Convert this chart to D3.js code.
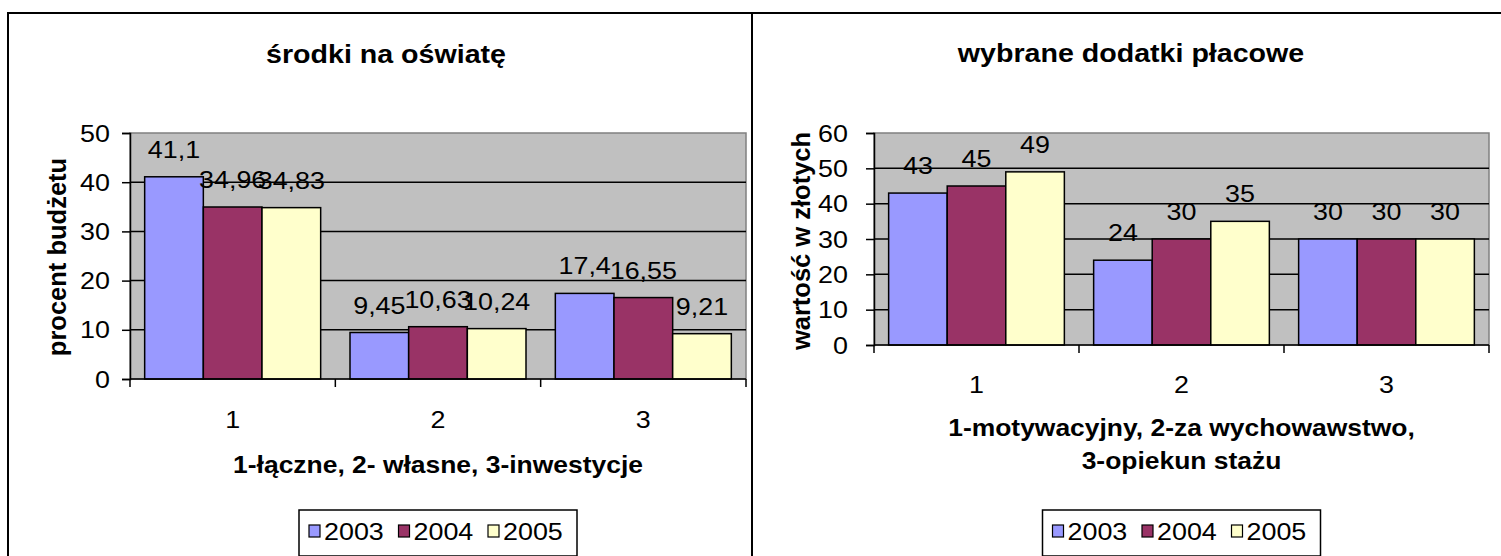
<!DOCTYPE html>
<html><head><meta charset="utf-8">
<script src="https://cdn.jsdelivr.net/npm/d3@7/dist/d3.min.js"></script>
<style>html,body{margin:0;padding:0;background:#fff;}svg{display:block;}</style>
</head><body>
<svg id="c" width="1501" height="556"></svg>
<script>
// ---- DATA ----
const years = ["2003", "2004", "2005"];
const colors = ["#9999FF", "#993366", "#FFFFCC"];
const categories = ["1", "2", "3"];

const leftTitle = "środki na oświatę";
const leftYTitle = "procent budżetu";
const leftXTitle = ["1-łączne, 2- własne, 3-inwestycje"];
const leftTicks = [0, 10, 20, 30, 40, 50];
const left2003 = [41.1, 9.45, 17.4];
const left2004 = [34.96, 10.63, 16.55];
const left2005 = [34.83, 10.24, 9.21];

const rightTitle = "wybrane dodatki płacowe";
const rightYTitle = "wartość w złotych";
const rightXTitle = ["1-motywacyjny, 2-za wychowawstwo,", "3-opiekun stażu"];
const rightTicks = [0, 10, 20, 30, 40, 50, 60];
const right2003 = [43, 24, 30];
const right2004 = [45, 30, 30];
const right2005 = [49, 35, 30];

// ---- DRAWING ----
const svg = d3.select("#c");
const FONT = "'Liberation Sans', Arial, Helvetica, sans-serif";

function txt(g, x, y, s, o) {
  return g.append("text")
    .attr("transform", `translate(${x},${y}) rotate(${o.rot || 0}) scale(${o.sx || 1},1)`)
    .attr("font-family", FONT)
    .attr("font-size", o.size + "px")
    .attr("font-weight", o.weight || "normal")
    .attr("text-anchor", o.anchor || "middle")
    .attr("fill", "#000")
    .text(s);
}

const fmt = v => String(v).replace(".", ",");

// outer frames
svg.append("rect").attr("x", 8).attr("y", 13).attr("width", 1520).attr("height", 600)
  .attr("fill", "none").attr("stroke", "#000").attr("stroke-width", 2);
svg.append("line").attr("x1", 752).attr("x2", 752).attr("y1", 13).attr("y2", 560)
  .attr("stroke", "#000").attr("stroke-width", 2);

const TICK = {size: 24, sx: 1.12};

function panel(cfg) {
  const g = svg.append("g");
  const series = [cfg.s1, cfg.s2, cfg.s3];
  const x = d3.scaleBand().domain(categories).range([cfg.x0, cfg.x1]).paddingInner(0).paddingOuter(0);
  const inner = d3.scaleBand().domain(years).range([0, x.bandwidth()]).paddingInner(0).paddingOuter(0.25);
  const ymax = d3.max(cfg.ticks);
  const y = d3.scaleLinear().domain([0, ymax]).range([cfg.y0, cfg.y1]);

  // plot background
  g.append("rect").attr("x", cfg.x0).attr("y", y(ymax))
    .attr("width", cfg.x1 - cfg.x0).attr("height", cfg.y0 - y(ymax))
    .attr("fill", "#C0C0C0").attr("stroke", "#808080").attr("stroke-width", 1.5);

  // gridlines
  g.selectAll(".grid").data(cfg.ticks.filter(t => t > 0 && t < ymax)).enter()
    .append("line").attr("x1", cfg.x0).attr("x2", cfg.x1)
    .attr("y1", d => y(d)).attr("y2", d => y(d))
    .attr("stroke", "#000").attr("stroke-width", 1.5);

  // bars
  years.forEach((yr, si) => {
    g.selectAll(".b" + si).data(categories).enter().append("rect")
      .attr("x", c => x(c) + inner(yr))
      .attr("y", (c, i) => y(series[si][i]))
      .attr("width", inner.bandwidth())
      .attr("height", (c, i) => cfg.y0 - y(series[si][i]))
      .attr("fill", colors[si]).attr("stroke", "#000").attr("stroke-width", 1.5);
  });

  // y axis
  const ya = g.append("g").attr("transform", `translate(${cfg.x0},0)`)
    .call(d3.axisLeft(y).tickValues(cfg.ticks).tickSize(8).tickFormat(""));
  ya.select(".domain").attr("stroke", "#000").attr("stroke-width", 1.5);
  ya.selectAll(".tick line").attr("stroke", "#000").attr("stroke-width", 1.5);
  cfg.ticks.forEach(t => txt(g, cfg.ylabX, y(t) + 8.5, String(t), {...TICK, anchor: "end"}));

  // x axis
  const boundaries = categories.map(c => x(c)).concat([cfg.x1]);
  g.append("line").attr("x1", cfg.x0).attr("x2", cfg.x1).attr("y1", cfg.y0).attr("y2", cfg.y0)
    .attr("stroke", "#000").attr("stroke-width", 1.5);
  g.selectAll(".xt").data(boundaries).enter().append("line")
    .attr("x1", d => d).attr("x2", d => d).attr("y1", cfg.y0).attr("y2", cfg.y0 + 8)
    .attr("stroke", "#000").attr("stroke-width", 1.5);
  categories.forEach(c => txt(g, x(c) + x.bandwidth() / 2, cfg.xlabY, c, TICK));

  // data labels
  years.forEach((yr, si) => {
    categories.forEach((c, i) => {
      const v = series[si][i];
      txt(g, x(c) + inner(yr) + inner.bandwidth() / 2, y(v) - 19, fmt(v), TICK);
    });
  });

  // titles
  txt(g, cfg.titleX, cfg.titleY, cfg.title, {size: 26, weight: "bold", sx: 1.1});
  txt(g, cfg.ytX, cfg.ytY, cfg.ytitle, {size: 25, weight: "bold", rot: -90, sx: 1.02});
  cfg.xtitle.forEach((line, i) =>
    txt(g, (cfg.x0 + cfg.x1) / 2, cfg.xtY + i * 33, line, {size: 23, weight: "bold", sx: 1.15}));

  // legend
  const lw = 278, lx = (cfg.x0 + cfg.x1) / 2 - lw / 2, ly = 510;
  g.append("rect").attr("x", lx).attr("y", ly).attr("width", lw).attr("height", 46)
    .attr("fill", "#fff").attr("stroke", "#000").attr("stroke-width", 1.5);
  years.forEach((yr, si) => {
    const ix = lx + 10 + si * 89.5;
    g.append("rect").attr("x", ix).attr("y", ly + 15).attr("width", 11).attr("height", 12)
      .attr("fill", colors[si]).attr("stroke", "#000").attr("stroke-width", 1.2);
    txt(g, ix + 15, ly + 30, yr, {...TICK, anchor: "start"});
  });
}

panel({x0: 130, x1: 746, y0: 379, y1: 133, ticks: leftTicks,
  s1: left2003, s2: left2004, s3: left2005,
  title: leftTitle, titleX: 386, titleY: 63,
  ytitle: leftYTitle, ytX: 66, ytY: 257,
  xtitle: leftXTitle, xtY: 473, ylabX: 110, xlabY: 428});

panel({x0: 874, x1: 1489, y0: 345, y1: 133, ticks: rightTicks,
  s1: right2003, s2: right2004, s3: right2005,
  title: rightTitle, titleX: 1131, titleY: 62,
  ytitle: rightYTitle, ytX: 810, ytY: 241,
  xtitle: rightXTitle, xtY: 436, ylabX: 848, xlabY: 393});
</script>
</body></html>
